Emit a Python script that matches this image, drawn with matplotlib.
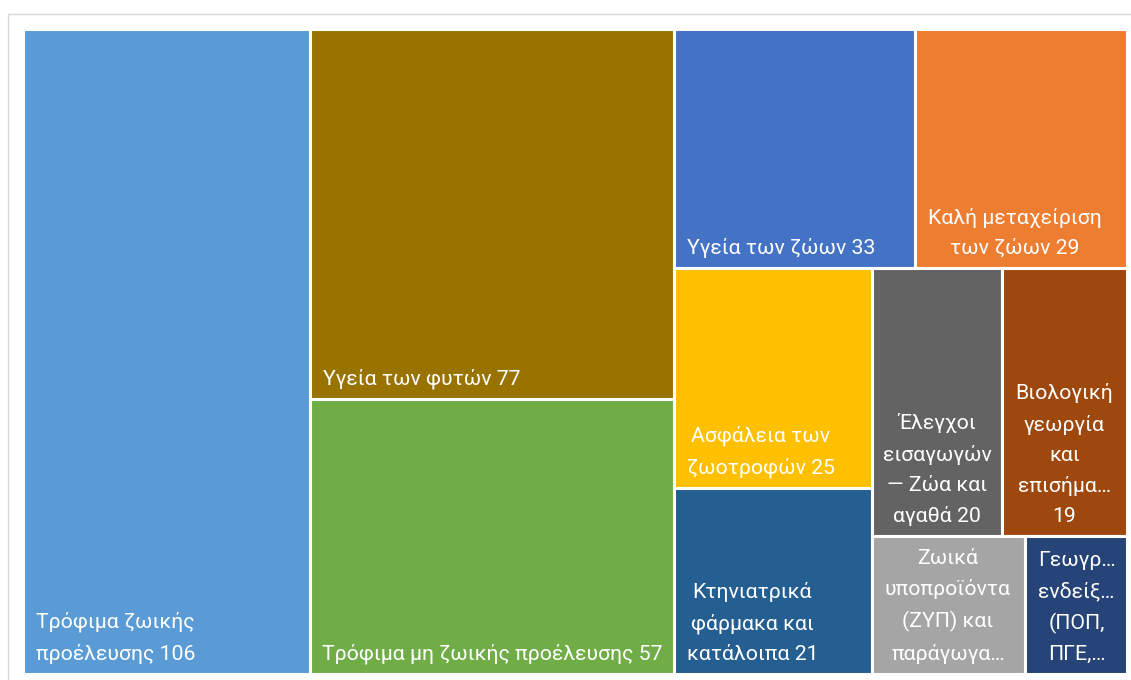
import matplotlib
matplotlib.use("Agg")
import matplotlib.pyplot as plt
from matplotlib.patches import Rectangle

# ---- data ----
categories = [
    "Τρόφιμα ζωικής προέλευσης",
    "Υγεία των φυτών",
    "Τρόφιμα μη ζωικής προέλευσης",
    "Υγεία των ζώων",
    "Καλή μεταχείριση των ζώων",
    "Ασφάλεια των ζωοτροφών",
    "Κτηνιατρικά φάρμακα και κατάλοιπα",
    "Έλεγχοι εισαγωγών — Ζώα και αγαθά",
    "Βιολογική γεωργία και επισήμανση",
    "Ζωικά υποπροϊόντα (ΖΥΠ) και παράγωγα προϊόντα",
    "Γεωγραφικές ενδείξεις (ΠΟΠ, ΠΓΕ, ΕΠΙΠ)",
]
values = [106, 77, 57, 33, 29, 25, 21, 20, 19, 12, 8]
# labels as displayed (wrapped / truncated like the original)
display_labels = [
    "Τρόφιμα ζωικής\nπροέλευσης 106",
    "Υγεία των φυτών 77",
    "Τρόφιμα μη ζωικής προέλευσης 57",
    "Υγεία των ζώων 33",
    "Καλή μεταχείριση\nτων ζώων 29",
    "Ασφάλεια των\nζωοτροφών 25",
    "Κτηνιατρικά\nφάρμακα και\nκατάλοιπα 21",
    "Έλεγχοι\nεισαγωγών\n— Ζώα και\nαγαθά 20",
    "Βιολογική\nγεωργία\nκαι\nεπισήμα…\n19",
    "Ζωικά\nυποπροϊόντα\n(ΖΥΠ) και\nπαράγωγα…",
    "Γεωγρ…\nενδείξ…\n(ΠΟΠ,\nΠΓΕ,…",
]
colors = ["#5B9BD5", "#997300", "#70AD47", "#4472C4", "#ED7D31", "#FFC000",
          "#255E91", "#636363", "#9E480E", "#A5A5A5", "#264478"]

# layout structure (Excel-like): nested slice splits of index groups
# ('h' = split along x, 'v' = split along y)
structure = ('h', [0,
                   ('v', [1, 2]),
                   ('v', [('h', [3, 4]),
                          ('h', [('v', [5, 6]),
                                 ('v', [('h', [7, 8]), ('h', [9, 10])])])])])


def total(node):
    if isinstance(node, int):
        return values[node]
    return sum(total(c) for c in node[1])


rects = {}


def layout(node, x0, y0, x1, y1):
    if isinstance(node, int):
        rects[node] = (x0, y0, x1, y1)
        return
    d, children = node
    t = total(node)
    pos = x0 if d == 'h' else y0
    span = (x1 - x0) if d == 'h' else (y1 - y0)
    for c in children:
        s = span * total(c) / t
        if d == 'h':
            layout(c, pos, y0, pos + s, y1)
        else:
            layout(c, x0, pos, x1, pos + s)
        pos += s


W, H = 1131, 680
fig = plt.figure(figsize=(W / 100, H / 100), dpi=100)
ax = fig.add_axes([0, 0, 1, 1])
ax.set_xlim(0, W)
ax.set_ylim(H, 0)
ax.axis('off')

# chart-area border
ax.add_patch(Rectangle((7.5, 13.5), 1200, 1000, fill=False, edgecolor="#D9D9D9",
                       linewidth=1.0, clip_on=False))

layout(structure, 22.5, 28.5, 1126.5, 673.5)

fig.canvas.draw()
renderer = fig.canvas.get_renderer()
pad = 12
for i in range(len(values)):
    x0, y0, x1, y1 = rects[i]
    ax.add_patch(Rectangle((x0, y0), x1 - x0, y1 - y0, facecolor=colors[i],
                           edgecolor="white", linewidth=2.2))
    t = ax.text(x0 + pad + 1, y1 - 10, display_labels[i], color="white",
                family=["Roboto", "DejaVu Sans"], fontsize=15.3,
                ha="left", va="bottom", multialignment="center",
                linespacing=1.72)
    bb = t.get_window_extent(renderer)
    if bb.width > (x1 - x0) - 2 * pad:
        t.set_x((x0 + x1) / 2)
        t.set_ha("center")

fig.savefig("out.png", dpi=100)
